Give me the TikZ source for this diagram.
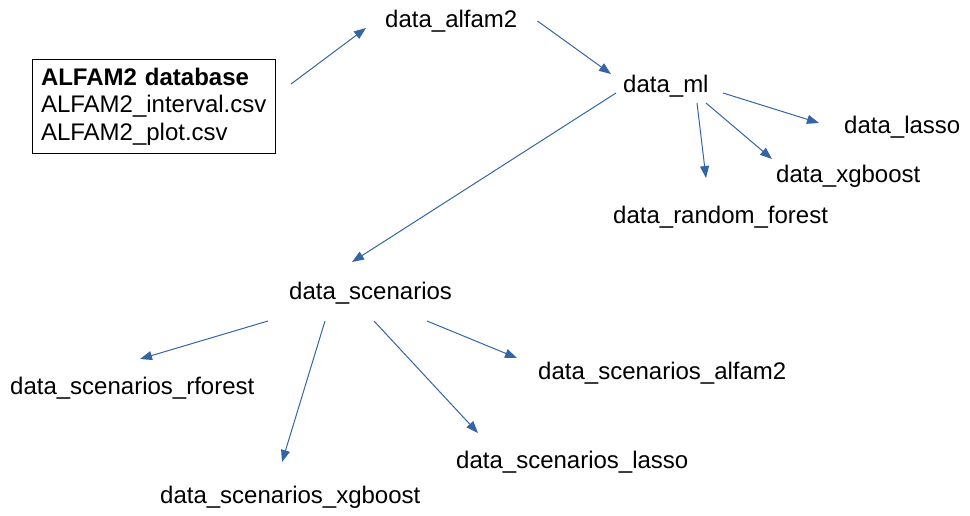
\documentclass[tikz,border=0pt]{standalone}
\usepackage{fontspec}
\setmainfont{Liberation Sans}
\usepackage{tikz}
\usetikzlibrary{arrows.meta, positioning}
\definecolor{flowblue}{RGB}{52,101,164}

\begin{document}
\begin{tikzpicture}[x=1pt, y=-1pt,
		font=\fontsize{24}{27.5}\selectfont,
		lbl/.style={inner sep=0pt, anchor=base west},
		arr/.style={-{Triangle[length=12pt,width=9pt]}, flowblue, line width=1pt}]
		\useasboundingbox (0,0) rectangle (970,515);
		% Source box
		\node[draw, line width=1pt, anchor=north west, text width=226pt,
			inner xsep=8.5pt, inner ysep=8.5pt, align=left] (db) at (32,59)
			{\textbf{ALFAM2 database}\\ALFAM2\_interval.csv\\ALFAM2\_plot.csv};
		% Data objects
		\node[lbl] (alfam2) at (385,27) {data\_alfam2};
		\node[lbl] (ml) at (623,92) {data\_ml};
		\node[lbl] (lasso) at (844,133) {data\_lasso};
		\node[lbl] (xgb) at (776,182) {data\_xgboost};
		\node[lbl] (rf) at (613,223) {data\_random\_forest};
		% Scenario objects
		\node[lbl] (scen) at (289,299) {data\_scenarios};
		\node[lbl] (scenrf) at (10,394) {data\_scenarios\_rforest};
		\node[lbl] (scenalfam) at (538,379) {data\_scenarios\_alfam2};
		\node[lbl] (scenlasso) at (456,468) {data\_scenarios\_lasso};
		\node[lbl] (scenxgb) at (160,503) {data\_scenarios\_xgboost};
		% Arrows
		\draw[arr] ([shift={(15,25)}]db.north east) -- ([shift={(-19,1)}]alfam2.base west);
		\draw[arr] ([shift={(20,-6)}]alfam2.base east) -- ([shift={(-12,-18)}]ml.base west);
		\draw[arr] ([shift={(-7,1)}]ml.base west) -- ([shift={(63,-37)}]scen.base west);
		\draw[arr] ([shift={(74,11)}]ml.base west) -- ([shift={(93,-45)}]rf.base west);
		\draw[arr] ([shift={(83,11)}]ml.base west) -- ([shift={(-4,-23)}]xgb.base west);
		\draw[arr] ([shift={(100,1)}]ml.base west) -- ([shift={(-25,-10)}]lasso.base west);
		\draw[arr] ([shift={(-21,22)}]scen.base west) -- ([shift={(130,-35)}]scenrf.base west);
		\draw[arr] ([shift={(36,22)}]scen.base west) -- ([shift={(122,-41)}]scenxgb.base west);
		\draw[arr] ([shift={(85,22)}]scen.base west) -- ([shift={(22,-35)}]scenlasso.base west);
		\draw[arr] ([shift={(138,22)}]scen.base west) -- ([shift={(-21,-21)}]scenalfam.base west);
	\end{tikzpicture}
\end{document}
